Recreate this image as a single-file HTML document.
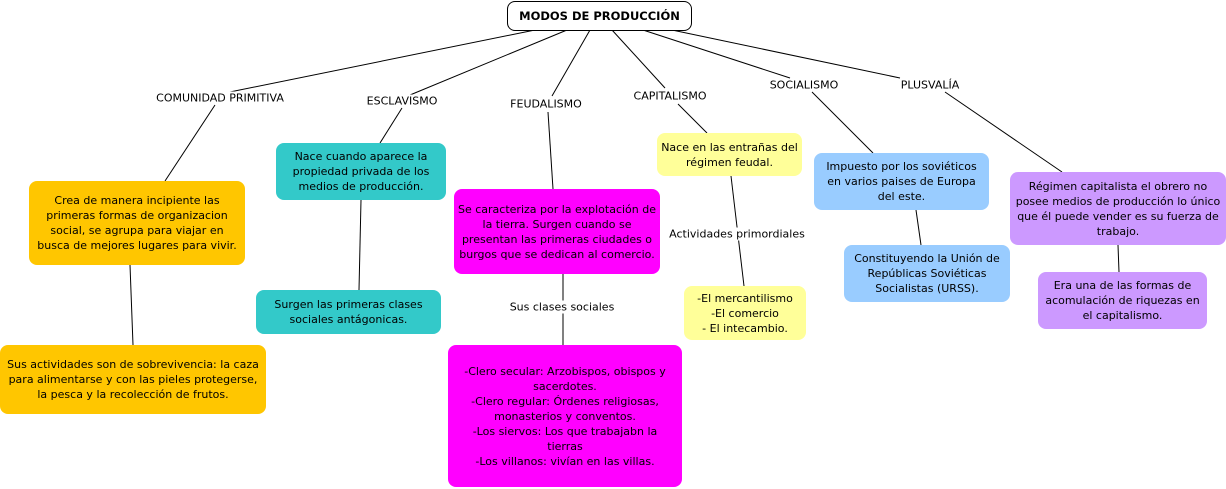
<!DOCTYPE html>
<html><head><meta charset="utf-8"><style>
body{margin:0;width:1226px;height:489px;background:#fff;position:relative;overflow:hidden;font-family:"DejaVu Sans","Liberation Sans",sans-serif;font-size:11px;color:#000}
.b{position:absolute;border-radius:8px;display:flex;align-items:center;justify-content:center;text-align:center;line-height:15px;box-sizing:border-box;padding:2px 4px}
.l{position:absolute;white-space:nowrap;transform:translate(-50%,-50%);background:#fff;padding:0 1px;line-height:13px}
svg{position:absolute;left:0;top:0}
</style></head><body>
<svg width="1226" height="489"><g stroke="#000" stroke-width="1" fill="none">
<line x1="535" y1="30" x2="215" y2="95"/><line x1="215" y1="105" x2="165" y2="181"/>
<line x1="567" y1="30" x2="410" y2="95"/><line x1="402" y1="108" x2="380" y2="143"/>
<line x1="590" y1="30" x2="552" y2="96"/><line x1="548" y1="112" x2="553" y2="189"/>
<line x1="612" y1="30" x2="665" y2="88"/><line x1="678" y1="104" x2="707" y2="133"/>
<line x1="643" y1="30" x2="790" y2="78"/><line x1="812" y1="92" x2="873" y2="153"/>
<line x1="672" y1="30" x2="900" y2="78"/><line x1="945" y1="92" x2="1062" y2="172"/>
<line x1="130" y1="265" x2="133" y2="345"/>
<line x1="361" y1="200" x2="359" y2="290"/>
<line x1="563" y1="274" x2="563" y2="345"/>
<line x1="731" y1="176" x2="744" y2="286"/>
<line x1="916" y1="210" x2="921" y2="245"/>
<line x1="1118" y1="245" x2="1119" y2="272"/>
</g></svg>
<div class="b" style="left:507px;top:1px;width:185px;height:30px;background:#fff;border:1px solid #000;font-weight:bold;font-size:11.5px">MODOS DE PRODUCCIÓN</div>
<div class="l" style="left:220px;top:98px">COMUNIDAD PRIMITIVA</div>
<div class="l" style="left:402px;top:101px">ESCLAVISMO</div>
<div class="l" style="left:546px;top:104px">FEUDALISMO</div>
<div class="l" style="left:670px;top:96px">CAPITALISMO</div>
<div class="l" style="left:804px;top:85px">SOCIALISMO</div>
<div class="l" style="left:930px;top:85px">PLUSVALÍA</div>
<div class="l" style="left:562px;top:307px">Sus clases sociales</div>
<div class="l" style="left:737px;top:234px">Actividades primordiales</div>
<div class="b" style="left:29px;top:181px;width:216px;height:84px;background:#ffc600">Crea de manera incipiente las primeras formas de organizacion social, se agrupa para viajar en busca de mejores lugares para vivir.</div>
<div class="b" style="left:0px;top:345px;width:266px;height:69px;background:#ffc600">Sus actividades son de sobrevivencia: la caza para alimentarse y con las pieles protegerse, la pesca y la recolección de frutos.</div>
<div class="b" style="left:276px;top:143px;width:170px;height:57px;background:#33c9c9">Nace cuando aparece la propiedad privada de los medios de producción.</div>
<div class="b" style="left:256px;top:290px;width:185px;height:44px;background:#33c9c9">Surgen las primeras clases sociales antágonicas.</div>
<div class="b" style="left:454px;top:189px;width:206px;height:85px;background:#ff00ff">Se caracteriza por la explotación de la tierra. Surgen cuando se presentan las primeras ciudades o burgos que se dedican al comercio.</div>
<div class="b" style="left:448px;top:345px;width:234px;height:142px;background:#ff00ff;padding:2px 12px">-Clero secular: Arzobispos, obispos y sacerdotes.<br>-Clero regular: Órdenes religiosas, monasterios y conventos.<br>-Los siervos: Los que trabajabn la tierras<br>-Los villanos: vivían en las villas.</div>
<div class="b" style="left:657px;top:133px;width:145px;height:43px;background:#ffff99">Nace en las entrañas del régimen feudal.</div>
<div class="b" style="left:684px;top:286px;width:122px;height:54px;background:#ffff99">-El mercantilismo<br>-El comercio<br>- El intecambio.</div>
<div class="b" style="left:814px;top:153px;width:175px;height:57px;background:#99ccff">Impuesto por los soviéticos en varios paises de Europa del este.</div>
<div class="b" style="left:844px;top:245px;width:166px;height:57px;background:#99ccff">Constituyendo la Unión de Repúblicas Soviéticas Socialistas (URSS).</div>
<div class="b" style="left:1010px;top:172px;width:216px;height:73px;background:#cc99ff">Régimen capitalista el obrero no posee medios de producción lo único que él puede vender es su fuerza de trabajo.</div>
<div class="b" style="left:1038px;top:272px;width:169px;height:57px;background:#cc99ff">Era una de las formas de acomulación de riquezas en el capitalismo.</div>
</body></html>
